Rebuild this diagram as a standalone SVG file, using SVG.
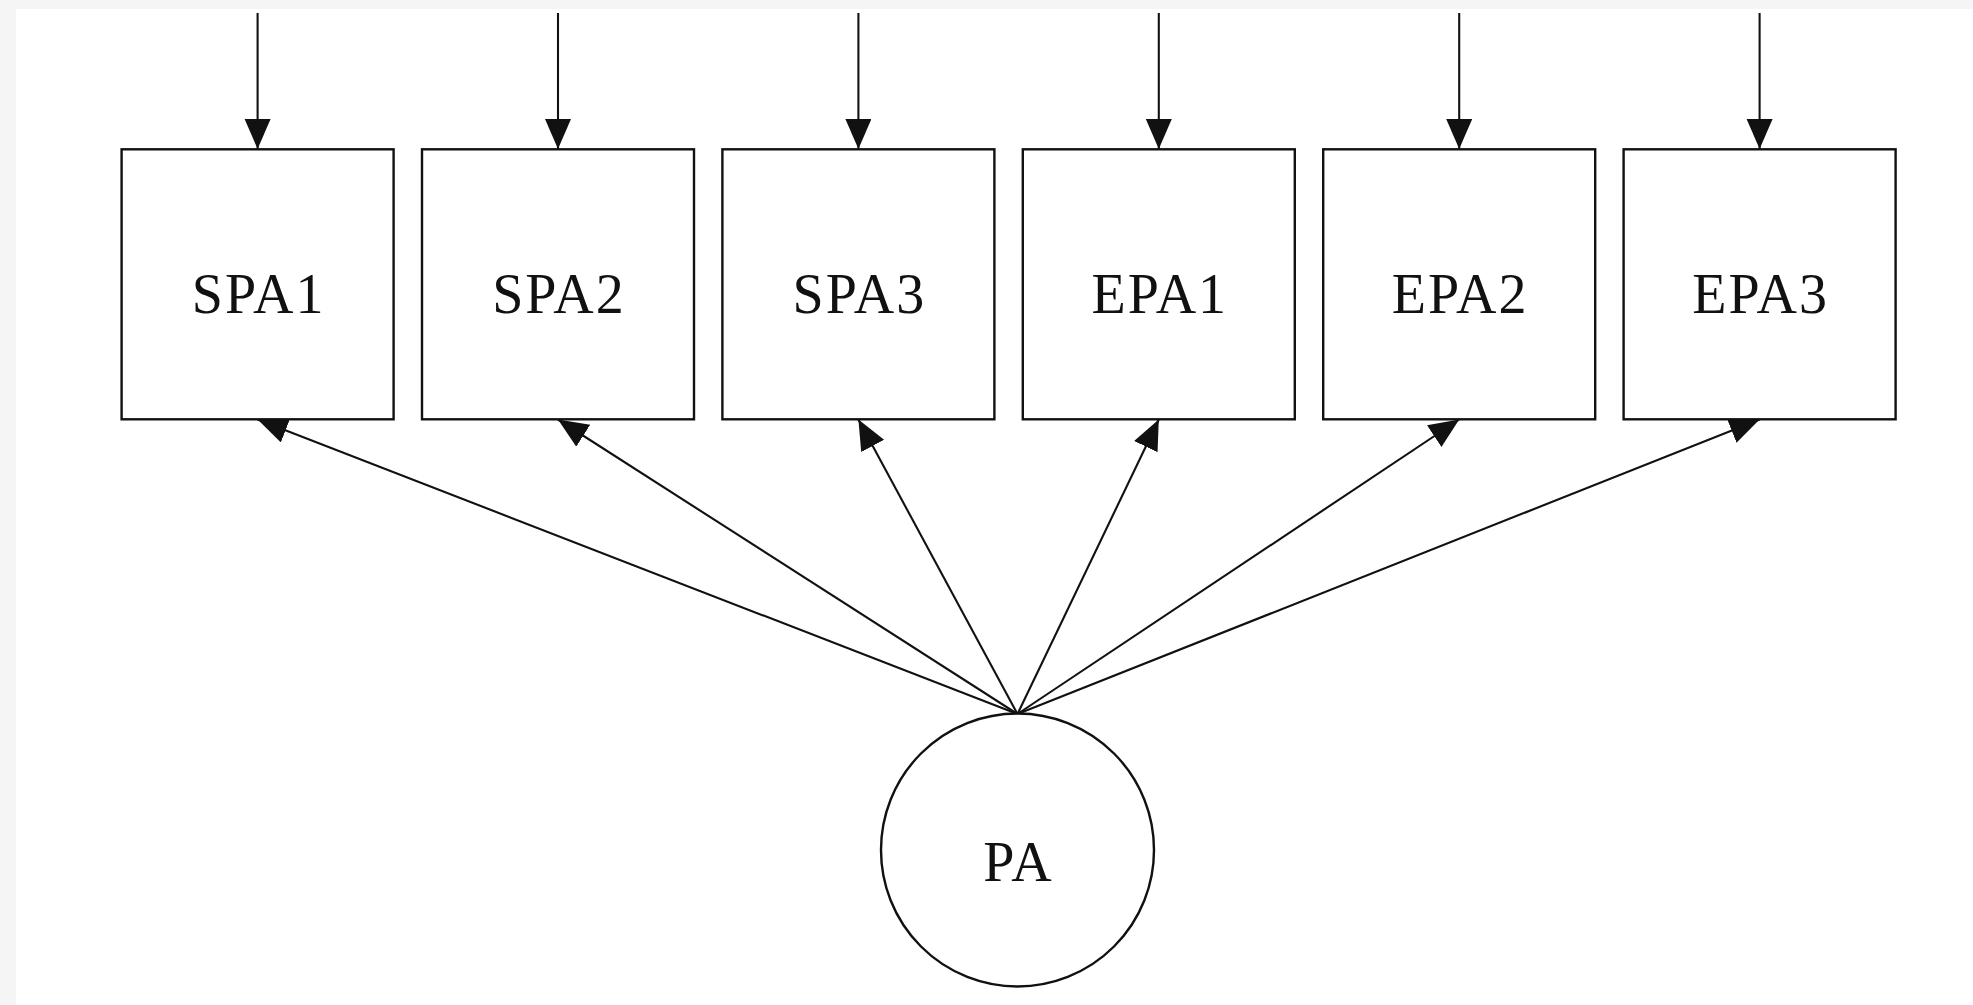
<svg xmlns="http://www.w3.org/2000/svg" width="1973" height="1005" viewBox="0 0 1973 1005">
<style>
.box{fill:#fff;stroke:#111;stroke-width:2.4}
.lbl{font-family:"Liberation Serif","Times New Roman",serif;font-size:56px;fill:#111;text-anchor:middle;letter-spacing:2px}
.edge{stroke:#111;stroke-width:2.1;fill:none}
</style>
<defs>
<marker id="ah" markerUnits="userSpaceOnUse" markerWidth="32" markerHeight="28" refX="30" refY="13" orient="auto" viewBox="0 0 32 28">
<path d="M0,0 L30,13 L0,26 Z" fill="#111"/>
</marker>
</defs>
<rect x="0" y="0" width="1973" height="1005" fill="#f5f5f5"/>
<rect x="16" y="9" width="1957" height="996" fill="#fff"/>
<g id="connectors">
<line class="edge" x1="257.6" y1="13" x2="257.6" y2="149" marker-end="url(#ah)"/>
<line class="edge" x1="558" y1="13" x2="558" y2="149" marker-end="url(#ah)"/>
<line class="edge" x1="858.4" y1="13" x2="858.4" y2="149" marker-end="url(#ah)"/>
<line class="edge" x1="1158.8" y1="13" x2="1158.8" y2="149" marker-end="url(#ah)"/>
<line class="edge" x1="1459.2" y1="13" x2="1459.2" y2="149" marker-end="url(#ah)"/>
<line class="edge" x1="1759.6" y1="13" x2="1759.6" y2="149" marker-end="url(#ah)"/>
<line class="edge" x1="1017.5" y1="714" x2="257.6" y2="419.5" marker-end="url(#ah)"/>
<line class="edge" x1="1017.5" y1="714" x2="558" y2="419.5" marker-end="url(#ah)"/>
<line class="edge" x1="1017.5" y1="714" x2="858.4" y2="419.5" marker-end="url(#ah)"/>
<line class="edge" x1="1017.5" y1="714" x2="1158.8" y2="419.5" marker-end="url(#ah)"/>
<line class="edge" x1="1017.5" y1="714" x2="1459.2" y2="419.5" marker-end="url(#ah)"/>
<line class="edge" x1="1017.5" y1="714" x2="1759.6" y2="419.5" marker-end="url(#ah)"/>
</g>
<g id="SPA1"><rect class="box" x="121.6" y="149.3" width="272" height="270"/><text class="lbl" x="258.6" y="313">SPA1</text></g>
<g id="SPA2"><rect class="box" x="422" y="149.3" width="272" height="270"/><text class="lbl" x="559" y="313">SPA2</text></g>
<g id="SPA3"><rect class="box" x="722.4" y="149.3" width="272" height="270"/><text class="lbl" x="859.4" y="313">SPA3</text></g>
<g id="EPA1"><rect class="box" x="1022.8" y="149.3" width="272" height="270"/><text class="lbl" x="1159.8" y="313">EPA1</text></g>
<g id="EPA2"><rect class="box" x="1323.2" y="149.3" width="272" height="270"/><text class="lbl" x="1460.2" y="313">EPA2</text></g>
<g id="EPA3"><rect class="box" x="1623.6" y="149.3" width="272" height="270"/><text class="lbl" x="1760.6" y="313">EPA3</text></g>
<g id="PA"><circle class="box" cx="1017.5" cy="850" r="136.5"/><text class="lbl" x="1018.5" y="881">PA</text></g>
</svg>
